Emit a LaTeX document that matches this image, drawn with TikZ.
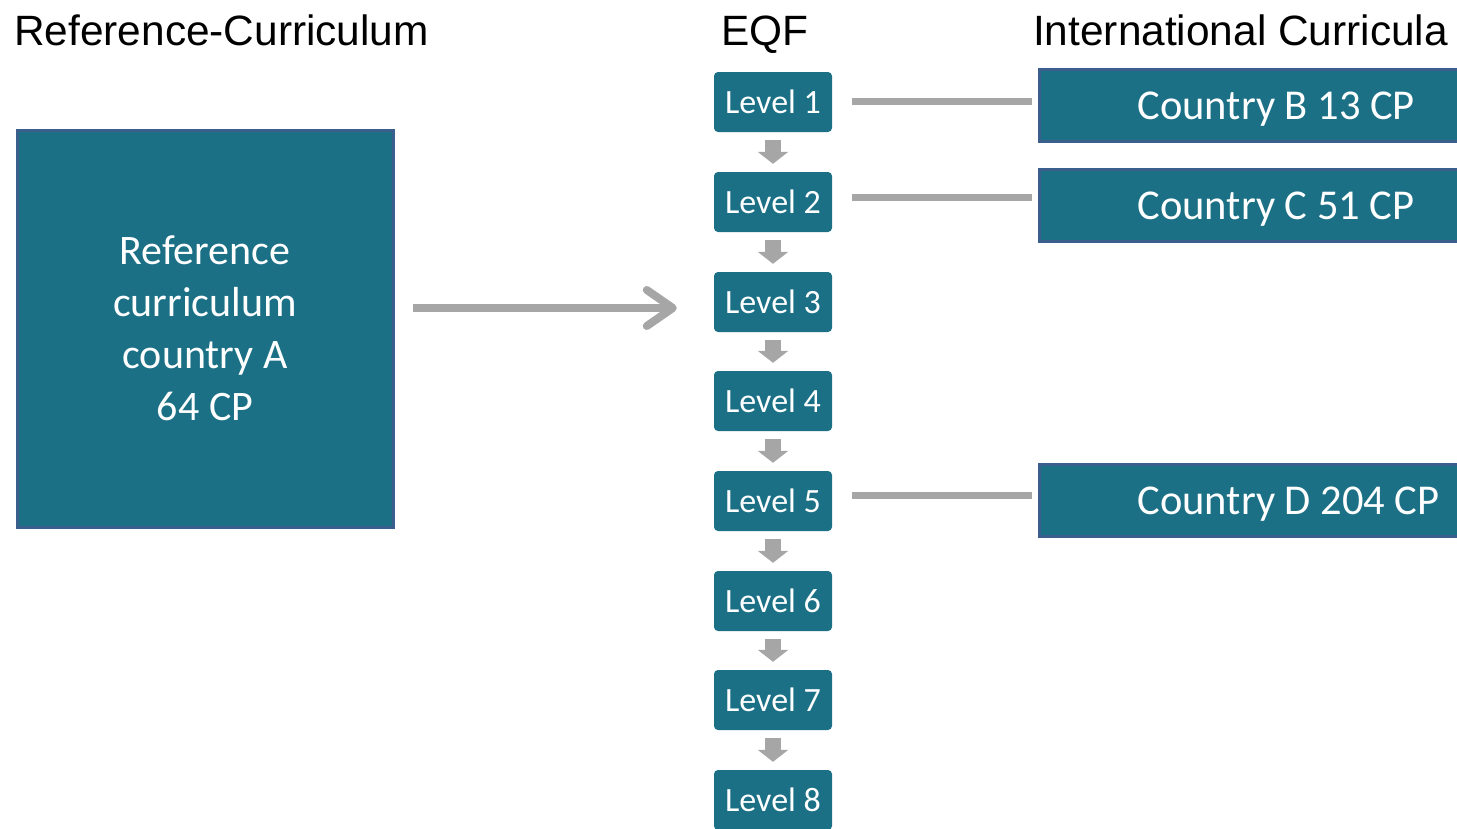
\documentclass[tikz,border=0pt]{standalone}
\usepackage{fontspec}
\setmainfont{Carlito}
\newfontfamily\headfont{Liberation Sans}
\usetikzlibrary{arrows.meta,calc}
\definecolor{teal}{RGB}{27,112,134}
\definecolor{edgeblue}{RGB}{59,95,140}
\definecolor{arrowgray}{RGB}{166,166,166}
\newcommand{\ctext}[1]{\makebox[340pt][l]{#1}}
\begin{document}
\begin{tikzpicture}[x=1pt,y=-1pt,
  heading/.style={anchor=base west, inner sep=0pt, font=\headfont\fontsize{42.4}{50}\selectfont},
  refbox/.style={draw=edgeblue, line width=3pt, fill=teal, text=white, align=center,
    font=\fontsize{42}{52}\selectfont, inner sep=0pt},
  levelbox/.style={fill=teal, rounded corners=4pt, text=white, minimum width=118pt,
    minimum height=60pt, inner sep=0pt, font=\fontsize{34}{38}\selectfont},
  countrybox/.style={draw=edgeblue, line width=3pt, fill=teal, text=white, anchor=north west,
    minimum width=536pt, minimum height=72pt, inner xsep=0pt,
    text depth=0pt, font=\fontsize{42.5}{48}\selectfont},
  downarrow/.style={arrowgray, line width=16pt, -{Triangle[width=30pt,length=12pt]}},
  link/.style={arrowgray, line width=7pt},
  bigarrow/.style={arrowgray, line width=8pt, -{Straight Barb[length=26pt,width=36pt,round]}}
]
\useasboundingbox (0,0) rectangle (1457,828);
\clip (0,0) rectangle (1457,828);

% headings
\node[heading] (h1) at (14,45) {Reference-Curriculum};
\node[heading] (h2) at (721,45) {EQF};
\node[heading] (h3) at (1033,45) {International Curricula};

% reference box
\node[refbox, minimum width=376pt, minimum height=397pt] (A) at (205,328.5)
  {Reference\\curriculum\\country A\\64 CP};

% levels
\foreach \i/\y in {1/102,2/202,3/302,4/401,5/501,6/601,7/700,8/800}{
  \node[levelbox] (L\i) at (773,\y) {Level \i};
}
\foreach \i [evaluate=\i as \j using int(\i+1)] in {1,...,7}{
  \draw[downarrow] ($(L\i.south)+(0,8)$) -- ($(L\j.north)+(0,-8)$);
}

% country boxes
\node[countrybox] (B) at (1038,68) {\ctext{Country B 13 CP}};
\node[countrybox] (C) at (1038,168) {\ctext{Country C 51 CP}};
\node[countrybox] (D) at (1038,463) {\ctext{Country D 204 CP}};

% links
\draw[link] ($(L1.east)+(20,-1)$) -- ($(B.west|-L1.east)+(-6,-1)$);
\draw[link] ($(L2.east)+(20,-5)$) -- ($(C.west|-L2.east)+(-6,-5)$);
\draw[link] ($(L5.east)+(20,-6)$) -- ($(D.west|-L5.east)+(-6,-6)$);

% big arrow
\coordinate (s) at ($(A.east|-0,308)+(18,0)$);
\coordinate (e) at ($(L3.west|-0,308)+(-37,0)$);
\draw[bigarrow] (s) -- (e);
\end{tikzpicture}
\end{document}
